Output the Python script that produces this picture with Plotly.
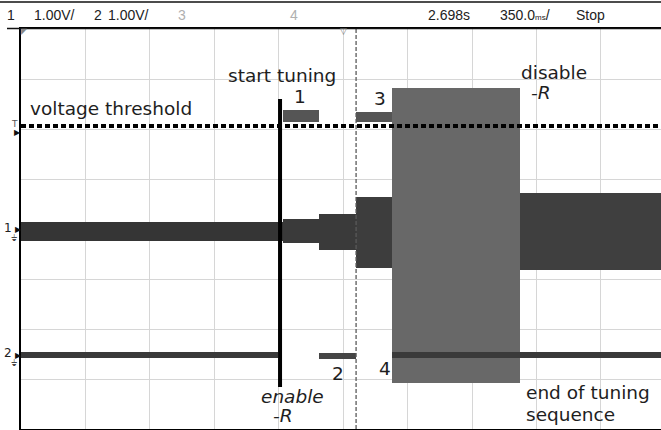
import plotly.graph_objects as go

# ---------------- data ----------------
T_CENTER = 2.698      # s, horizontal position shown in header
T_DIV = 0.35          # s / div
N_DIV_VISIBLE = 9.932 # visible divisions (right edge cut off)

header_labels = ["1", "1.00V/", "2", "1.00V/", "3", "4", "2.698s",
                 "350.0<span style='font-size:8px'>ms</span>/", "Stop"]

# channel 1 (volts, relative to its ground marker)
ch1_start = [0.948, 2.371, 2.567, 2.768, 2.963, 3.658]
ch1_end   = [2.371, 2.567, 2.768, 2.963, 3.658, 4.424]
ch1_hi    = [0.18, 0.24, 0.34, 0.68, 2.86, 0.76]
ch1_lo    = [-0.20, -0.24, -0.38, -0.74, -3.04, -0.78]
ch1_offset = -0.04    # divisions

# channel 2 (volts, relative to its ground marker)
ch2_start = [0.948, 2.371, 2.567, 2.768, 2.963]
ch2_end   = [2.344, 2.567, 2.768, 2.963, 4.424]
ch2_hi    = [0.06, 4.90, 0.04, 4.86, 0.06]
ch2_lo    = [-0.06, 4.66, -0.08, 4.66, -0.06]
ch2_offset = -2.52    # divisions

threshold_v = 4.58            # on channel 2 scale
start_tuning_t = 2.355        # s
start_marker_span = [-3.16, 2.60]  # divisions
ref_line_t = 2.768            # s

# ---------------- styles ----------------
ch1_colors = ["#353535", "#3a3a3a", "#3a3a3a", "#3d3d3d", "#686868", "#3f3f3f"]
ch2_colors = ["#3a3a3a", "#555555", "#454545", "#555555", "#3a3a3a"]
GRID = "#d6d6d6"
TXT = "#1e1e1e"
ANN_FONT = "DejaVu Sans"
ANN_SIZE = 18.5
HDR_FONT = "Liberation Sans, Arial, sans-serif"

x0 = T_CENTER - 5 * T_DIV
x1 = x0 + N_DIV_VISIBLE * T_DIV

fig = go.Figure()

def add_bands(starts, ends, lo, hi, offset, colors, name):
    fig.add_trace(go.Bar(
        x=[(s + e) / 2 for s, e in zip(starts, ends)],
        width=[e - s for s, e in zip(starts, ends)],
        base=[l + offset for l in lo],
        y=[h - l for h, l in zip(hi, lo)],
        marker=dict(color=colors, line=dict(width=0)),
        name=name, hoverinfo="skip", showlegend=False,
    ))

add_bands(ch1_start, ch1_end, ch1_lo, ch1_hi, ch1_offset, ch1_colors, "ch1")
add_bands(ch2_start, ch2_end, ch2_lo, ch2_hi, ch2_offset, ch2_colors, "ch2")

# time reference dashed line
fig.add_trace(go.Scatter(x=[ref_line_t, ref_line_t], y=[-4, 4], mode="lines",
                         line=dict(color="#5a5a5a", width=1.3, dash="4px,2px"),
                         hoverinfo="skip", showlegend=False))
# voltage threshold
fig.add_trace(go.Scatter(x=[x0, x1], y=[threshold_v + ch2_offset] * 2, mode="lines",
                         line=dict(color="black", width=4, dash="5px,3px"),
                         hoverinfo="skip", showlegend=False))
# start tuning marker
fig.add_trace(go.Scatter(x=[start_tuning_t, start_tuning_t], y=start_marker_span, mode="lines",
                         line=dict(color="black", width=4),
                         hoverinfo="skip", showlegend=False))

# ---------------- annotations ----------------
def ann(text, x, y, size=ANN_SIZE, italic=False, xanchor="center", color=TXT):
    fig.add_annotation(text=(f"<i>{text}</i>" if italic else text), x=x, y=y,
                       xref="x", yref="y", showarrow=False, xanchor=xanchor,
                       yanchor="middle", font=dict(family=ANN_FONT, size=size, color=color))

ann("start tuning", 2.368, 3.08)
ann("1", 2.463, 2.66)
ann("3", 2.898, 2.62)
ann("disable", 3.843, 3.14)
ann("-R", 3.772, 2.74, italic=True)
ann("voltage threshold", 0.986, 2.42, xanchor="left")
ann("2", 2.670, -2.88)
ann("4", 2.925, -2.78)
ann("enable", 2.425, -3.34, italic=True)
ann("-R", 2.371, -3.72, italic=True)
ann("end of tuning", 3.680, -3.26, xanchor="left")
ann("sequence", 3.680, -3.70, xanchor="left")

# header (paper coordinates from pixel positions)
def px(xp):
    return (xp - 21) / 640.0

def py(yp):
    return (429 - yp) / 400.0

hdr_x = [5, 32, 92, 106, 176, 288, 426, 498, 574]
hdr_col = ["#222", "#222", "#222", "#222", "#b0b0b0", "#b0b0b0", "#222", "#222", "#222"]
for t, xp, c in zip(header_labels, hdr_x, hdr_col):
    fig.add_annotation(text=t, x=px(xp), y=py(15), xref="paper", yref="paper",
                       showarrow=False, xanchor="left", yanchor="middle",
                       font=dict(family=HDR_FONT, size=14, color=c))

# channel / trigger markers in left margin
def mark(text, xp, yp, size, color="#222"):
    fig.add_annotation(text=text, x=px(xp), y=py(yp), xref="paper", yref="paper",
                       showarrow=False, xanchor="center", yanchor="middle",
                       font=dict(family="DejaVu Sans", size=size, color=color))

mark("T", 14, 124, 9, "#555")
mark("▶", 17, 132, 8, "#111")
mark("1", 8, 228, 12)
mark("▶", 18, 230, 8, "#111")
mark("⏚", 14, 238, 9, "#444")
mark("2", 8, 353, 12)
mark("▶", 18, 355, 8, "#111")
mark("⏚", 14, 363, 9, "#444")
mark("◤", 24, 32, 8, "#888")
mark("▽", 343, 31, 9, "#777")

# header lines
fig.add_shape(type="line", xref="paper", yref="paper", x0=px(0), x1=px(661), y0=py(2), y1=py(2),
              line=dict(color="#111", width=1.5))
fig.add_shape(type="line", xref="paper", yref="paper", x0=px(7), x1=px(661), y0=py(28.5), y1=py(28.5),
              line=dict(color="#111", width=1.5))

fig.update_layout(
    width=661, height=430,
    margin=dict(l=21, r=0, t=29, b=1, pad=0),
    paper_bgcolor="white", plot_bgcolor="white",
    barmode="overlay", bargap=0, showlegend=False,
    xaxis=dict(range=[x0, x1], tick0=x0, dtick=T_DIV, showgrid=True, gridcolor=GRID,
               gridwidth=1, showticklabels=False, ticks="", zeroline=False,
               showline=True, linecolor="black", linewidth=1.5, mirror=True),
    yaxis=dict(range=[-4, 4], tick0=-4, dtick=1, showgrid=True, gridcolor=GRID,
               gridwidth=1, showticklabels=False, ticks="", zeroline=False,
               showline=True, linecolor="black", linewidth=1.5, mirror=False),
    xaxis2=dict(overlaying="x", anchor="free", position=0.5, range=[x0, x1],
                tick0=x0, dtick=T_DIV / 5, ticks="outside", ticklen=3, tickcolor="#c4c4c4",
                showticklabels=False, showgrid=False, zeroline=False, showline=False),
    xaxis3=dict(overlaying="x", anchor="free", position=0.5, range=[x0, x1],
                tick0=x0, dtick=T_DIV / 5, ticks="inside", ticklen=3, tickcolor="#c4c4c4",
                showticklabels=False, showgrid=False, zeroline=False, showline=False),
    yaxis2=dict(overlaying="y", anchor="free", position=(343.5 - 21) / 640, range=[-4, 4],
                tick0=-4, dtick=0.2, ticks="outside", ticklen=3, tickcolor="#c4c4c4",
                showticklabels=False, showgrid=False, zeroline=False, showline=False),
    yaxis3=dict(overlaying="y", anchor="free", position=(343.5 - 21) / 640, range=[-4, 4],
                tick0=-4, dtick=0.2, ticks="inside", ticklen=3, tickcolor="#c4c4c4",
                showticklabels=False, showgrid=False, zeroline=False, showline=False),
)

fig.write_html("out.html", config={"displayModeBar": False},
               post_script="document.body.style.margin='0';document.body.style.overflow='hidden';")
